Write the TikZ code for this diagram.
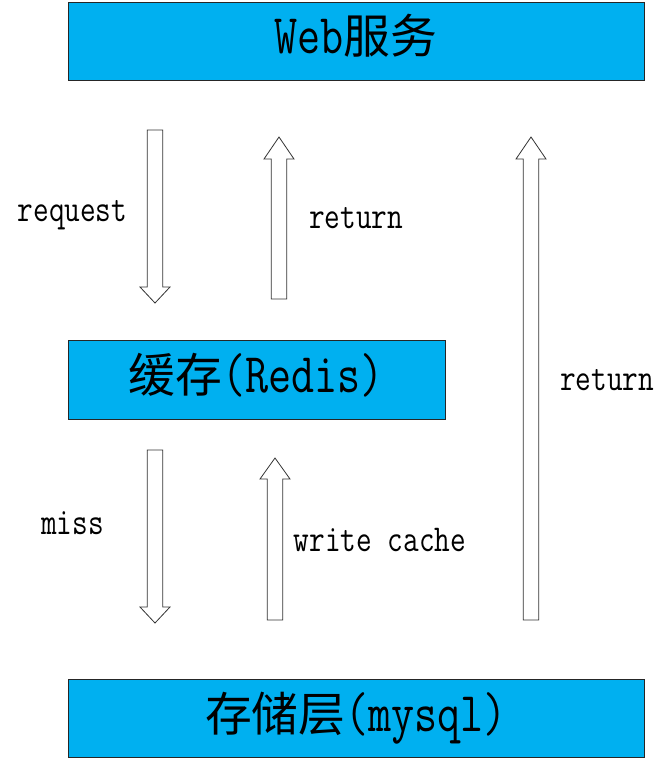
\documentclass[tikz,border=0pt]{standalone}
\usepackage{fontspec}
\setmainfont{Latin Modern Mono}[FakeStretch=0.8]
\newfontfamily\cjk{Noto Sans CJK SC}
\usetikzlibrary{calc}
\definecolor{layerblue}{HTML}{00B0F0}
\tikzset{
  layer/.style={draw=black!85, line width=0.9pt, fill=layerblue, inner sep=0pt,
    text height=36pt, text depth=10pt, font=\fontsize{56pt}{60pt}\selectfont},
  flowlabel/.style={anchor=base, inner sep=0pt, font=\fontsize{38pt}{42pt}\selectfont},
  hollow/.style={draw=black!80, line width=0.8pt, fill=white, line join=miter}
}
% hollow block arrow: start, tip, head length
\newcommand{\blockarrow}[3]{%
  \coordinate (hb) at ($(#2)!#3!(#1)$);
  \draw[hollow] ($(#1)!7.75pt!90:(#2)$) -- ($(hb)!7.75pt!-90:(#1)$)
    -- ($(hb)!15pt!-90:(#1)$) -- (#2) -- ($(hb)!15pt!90:(#1)$)
    -- ($(hb)!7.75pt!90:(#1)$) -- ($(#1)!7.75pt!-90:(#2)$) -- cycle;
}
\newcommand{\zh}[1]{{\fontsize{46.8pt}{50pt}\cjk #1}}
\begin{document}
\begin{tikzpicture}[x=1pt, y=-1pt]
  \useasboundingbox (0,0) rectangle (671,765);

  \node[layer, minimum width=576pt, minimum height=78pt] (web) at (356,41) {Web\zh{服务}};
  \node[layer, minimum width=377pt, minimum height=79pt] (redis) at (256.5,379.5) {\zh{缓存}(Redis)};
  \node[layer, minimum width=576pt, minimum height=78pt] (mysql) at (356,718) {\zh{存储层}(mysql)};

  \coordinate (reqS) at (155,130);   \coordinate (reqT) at (155,303);
  \coordinate (retS) at (279,299);   \coordinate (retT) at (279,137);
  \coordinate (dbretS) at (531,620); \coordinate (dbretT) at (531,137);
  \coordinate (missS) at (155,450);  \coordinate (missT) at (155,623);
  \coordinate (wrS) at (275,620);    \coordinate (wrT) at (275,458);

  \blockarrow{reqS}{reqT}{16pt}
  \blockarrow{retS}{retT}{22pt}
  \blockarrow{dbretS}{dbretT}{22pt}
  \blockarrow{missS}{missT}{16pt}
  \blockarrow{wrS}{wrT}{21pt}

  \node[flowlabel] (reqlbl) at (72.5,221) {request};
  \node[flowlabel] (retlbl) at (356,228) {return};
  \node[flowlabel] (dbretlbl) at (607,390) {return};
  \node[flowlabel] (misslbl) at (72.5,534) {miss};
  \node[flowlabel] (wrlbl) at (380,551) {write cache};
\end{tikzpicture}
\end{document}
